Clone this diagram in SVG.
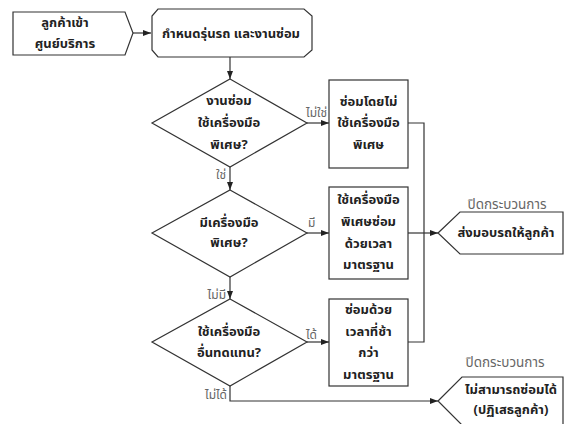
<svg xmlns="http://www.w3.org/2000/svg" width="564" height="424" viewBox="0 0 564 424">
<defs>
<style>
.s{fill:#fff;stroke:#333;stroke-width:1.2}
.c{fill:none;stroke:#333;stroke-width:1.2}
.t{font-family:"Noto Sans Thai","Noto Sans","DejaVu Sans",sans-serif;font-size:13px;font-weight:bold;fill:#222;text-anchor:middle}
.l{font-family:"Noto Sans Thai","Noto Sans","DejaVu Sans",sans-serif;font-size:12px;fill:#666}
.p{font-size:13.5px}
</style>
<marker id="a" viewBox="0 0 8 8" refX="8" refY="4" markerWidth="8" markerHeight="8" markerUnits="userSpaceOnUse" orient="auto">
<path d="M0,1 L8,4 L0,7 z" fill="#222"/>
</marker>
</defs>
<g id="connectors">
<path class="c" d="M133,33 H151" marker-end="url(#a)"/>
<path class="c" d="M230,57 V79" marker-end="url(#a)"/>
<path class="c" d="M307,123 H329" marker-end="url(#a)"/>
<path class="c" d="M230,167 V190" marker-end="url(#a)"/>
<path class="c" d="M307,233 H329" marker-end="url(#a)"/>
<path class="c" d="M230,277 V299" marker-end="url(#a)"/>
<path class="c" d="M307,342 H329" marker-end="url(#a)"/>
<path class="c" d="M408,123 H424 V342 H408"/>
<path class="c" d="M408,233 H438" marker-end="url(#a)"/>
<path class="c" d="M230,386 V401 H438" marker-end="url(#a)"/>
<text class="l" x="327" y="117" text-anchor="end">ไม่ใช่</text>
<text class="l" x="226" y="179" text-anchor="end">ใช่</text>
<text class="l" x="308" y="227">มี</text>
<text class="l" x="226" y="299" text-anchor="end">ไม่มี</text>
<text class="l" x="306" y="339">ได้</text>
<text class="l" x="227" y="399" text-anchor="end">ไม่ได้</text>
</g>
<g id="start">
<path class="s" d="M13,12 H125 L133,33 L125,55 H13 Z"/>
<text class="t" x="65" y="27">ลูกค้าเข้า</text>
<text class="t" x="65" y="48">ศูนย์บริการ</text>
</g>
<g id="define">
<path class="s" d="M158,9 H304 L312,16 V50 L304,57 H158 L152,50 V16 Z"/>
<text class="t" x="231" y="38">กำหนดรุ่นรถ และงานซ่อม</text>
</g>
<g id="d1">
<path class="s" d="M230,79 L307,123 L230,167 L152,123 Z"/>
<text class="t" x="229" y="105">งานซ่อม</text>
<text class="t" x="229" y="127">ใช้เครื่องมือ</text>
<text class="t" x="229" y="149">พิเศษ?</text>
</g>
<g id="b1">
<rect class="s" x="329" y="80" width="79" height="88"/>
<text class="t" x="368.5" y="106">ซ่อมโดยไม่</text>
<text class="t" x="368.5" y="127">ใช้เครื่องมือ</text>
<text class="t" x="368.5" y="149">พิเศษ</text>
</g>
<g id="d2">
<path class="s" d="M230,190 L307,233 L230,277 L152,233 Z"/>
<text class="t" x="229" y="227">มีเครื่องมือ</text>
<text class="t" x="229" y="247">พิเศษ?</text>
</g>
<g id="b2">
<rect class="s" x="329" y="187" width="79" height="92"/>
<text class="t" x="368.5" y="204">ใช้เครื่องมือ</text>
<text class="t" x="368.5" y="226">พิเศษซ่อม</text>
<text class="t" x="368.5" y="248">ด้วยเวลา</text>
<text class="t" x="368.5" y="269">มาตรฐาน</text>
</g>
<g id="d3">
<path class="s" d="M230,299 L307,342 L230,386 L152,342 Z"/>
<text class="t" x="229" y="336">ใช้เครื่องมือ</text>
<text class="t" x="229" y="357">อื่นทดแทน?</text>
</g>
<g id="b3">
<rect class="s" x="329" y="299" width="79" height="87"/>
<text class="t" x="368.5" y="314">ซ่อมด้วย</text>
<text class="t" x="368.5" y="336">เวลาที่ช้า</text>
<text class="t" x="368.5" y="357">กว่า</text>
<text class="t" x="368.5" y="379">มาตรฐาน</text>
</g>
<g id="end1">
<text class="l p" x="507" y="209" text-anchor="middle">ปิดกระบวนการ</text>
<path class="s" d="M438,233 L460,212 H563 V254 H460 Z"/>
<text class="t" x="506" y="237">ส่งมอบรถให้ลูกค้า</text>
</g>
<g id="end2">
<text class="l p" x="505" y="367" text-anchor="middle">ปิดกระบวนการ</text>
<path class="s" d="M438,401 L462,377 H563 V425 H462 Z"/>
<text class="t" x="511" y="394">ไม่สามารถซ่อมได้</text>
<text class="t" x="511" y="414">(ปฏิเสธลูกค้า)</text>
</g>
</svg>
